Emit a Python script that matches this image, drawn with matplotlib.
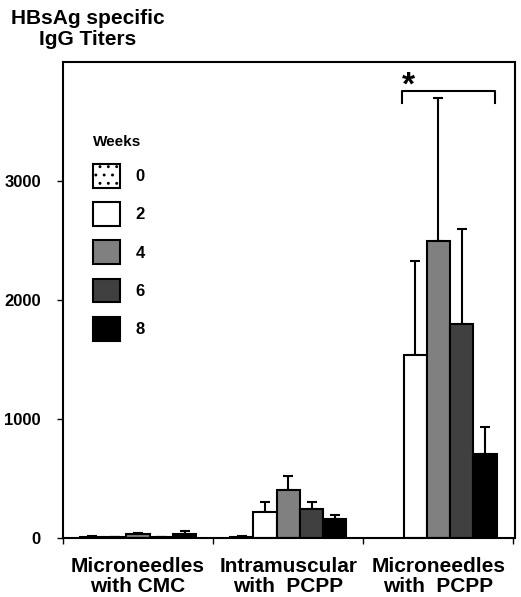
import matplotlib
matplotlib.use("Agg")
import matplotlib.pyplot as plt
import numpy as np

plt.rcParams['font.family'] = ['Liberation Sans', 'DejaVu Sans']
plt.rcParams['font.weight'] = 'bold'
plt.rcParams['hatch.linewidth'] = 0.9

groups = ["Microneedles\nwith CMC", "Intramuscular\nwith  PCPP", "Microneedles\nwith  PCPP"]
weeks = ["0", "2", "4", "6", "8"]
means = {
    "0": [10, 12, 0],
    "2": [5, 221, 1540],
    "4": [30, 400, 2500],
    "6": [5, 244, 1800],
    "8": [30, 160, 705],
}
errs = {
    "0": [5, 4, 0],
    "2": [3, 82, 790],
    "4": [10, 122, 1200],
    "6": [3, 58, 795],
    "8": [25, 32, 225],
}
colors = {"0": "white", "2": "white", "4": "#808080", "6": "#404040", "8": "black"}
hatches = {"0": "..", "2": None, "4": None, "6": None, "8": None}
yticks = [0, 1000, 2000, 3000]

fig = plt.figure(figsize=(5.21, 5.97), dpi=100)
ax = fig.add_axes([63/521, 1-538/597, (515-63)/521, (538-62)/597])

x = np.arange(len(groups))
w = 0.155
handles = []
for i, wk in enumerate(weeks):
    pos = x + (i - 2) * w
    vals = np.array(means[wk], dtype=float)
    b = ax.bar(pos, vals, width=w, color=colors[wk], edgecolor='black',
               linewidth=1.5, hatch=hatches[wk], label=wk, zorder=2)
    for rect, v in zip(b.patches, vals):
        if v == 0:
            rect.set_visible(False)
    ax.errorbar(pos[vals > 0], vals[vals > 0],
                yerr=[np.zeros((vals > 0).sum()), np.array(errs[wk])[vals > 0]],
                fmt='none', ecolor='black', elinewidth=1.5, capsize=3.5,
                capthick=1.5, zorder=1)
    handles.append(b)

ax.set_xlim(-0.5, 2.51)
ax.set_ylim(0, 4000)
ax.set_yticks(yticks)
ax.set_yticklabels([str(v) for v in yticks], fontsize=12, fontweight='bold')
ax.set_xticks(x)
ax.set_xticklabels(groups, fontsize=15, fontweight='bold', linespacing=1.05)
ax.tick_params(axis='x', which='major', length=0, pad=14)
ax.set_xticks([-0.5, 0.5, 1.5, 2.5], minor=True)
ax.tick_params(axis='x', which='minor', length=4, width=1)
ax.tick_params(axis='y', length=4, width=1, pad=12)
for s in ax.spines.values():
    s.set_linewidth(1.5)

# significance bracket
bx0, bx1 = 1.758, 2.378
ax.plot([bx0, bx0, bx1, bx1], [3655, 3756, 3756, 3655], color='black', lw=1.5)
ax.text(1.80, 3800, "*", fontsize=24, fontweight='bold', ha='center', va='center')

leg = ax.legend(handles=handles, labels=weeks, title="Weeks", frameon=False,
                loc='upper left', bbox_to_anchor=(0.051, 0.86),
                fontsize=12, title_fontproperties={'size': 11, 'weight': 'bold'},
                handlelength=1.62, handleheight=1.8, labelspacing=0.88,
                handletextpad=0.95, borderaxespad=0)
leg._legend_box.align = "left"
for t in leg.get_texts():
    t.set_fontweight('bold')

fig.text(87.5/521, 1-9/597, "HBsAg specific\nIgG Titers", ha='center', va='top',
         fontsize=15, fontweight='bold', linespacing=1.15)

fig.savefig("out.png", dpi=100)
